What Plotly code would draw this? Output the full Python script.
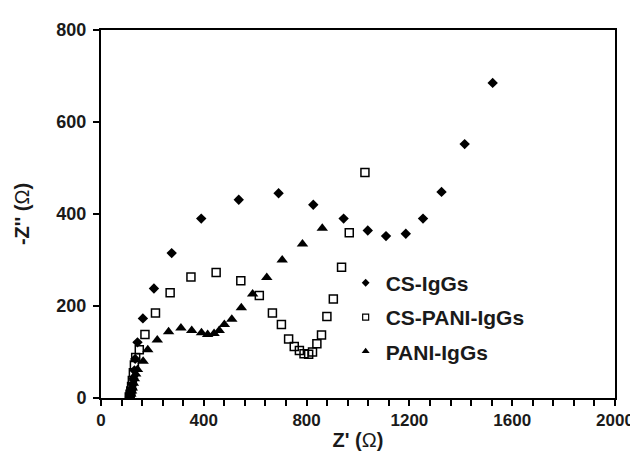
import plotly.graph_objects as go

# CS-IgGs (filled diamonds)
cs_x = [112, 115, 117, 120, 123, 126, 130, 133, 142, 163, 206, 275, 390, 536, 691, 826, 944, 1038, 1109, 1186, 1253, 1325, 1415, 1524]
cs_y = [2, 6, 12, 20, 30, 42, 60, 85, 121, 173, 238, 315, 390, 431, 445, 420, 390, 364, 352, 357, 390, 448, 552, 685]

# CS-PANI-IgGs (open squares)
cp_x = [110, 113, 116, 119, 122, 126, 130, 135, 149, 171, 212, 269, 350, 448, 544, 616, 667, 702, 730, 752, 772, 790, 808, 823, 840, 858, 879, 904, 936, 966, 1027]
cp_y = [2, 8, 15, 25, 38, 55, 72, 88, 105, 138, 185, 229, 263, 273, 255, 223, 185, 160, 128, 112, 103, 96, 95, 100, 118, 137, 177, 215, 284, 359, 490]

# PANI-IgGs (filled triangles)
pa_x = [113, 116, 119, 122, 126, 130, 135, 142, 164, 182, 219, 263, 311, 353, 391, 415, 440, 460, 480, 509, 546, 590, 645, 705, 784, 861]
pa_y = [3, 8, 15, 22, 32, 42, 52, 62, 80, 105, 126, 144, 152, 147, 142, 138, 140, 147, 160, 171, 196, 226, 262, 300, 335, 369]

x_ticks = [0, 400, 800, 1200, 1600, 2000]
y_ticks = [0, 200, 400, 600, 800]

series_names = ["CS-IgGs", "CS-PANI-IgGs", "PANI-IgGs"]

FONT = "Liberation Sans, Arial"
TXT = "#1a1a1a"

fig = go.Figure()
fig.add_trace(go.Scatter(x=cs_x, y=cs_y, mode="markers", name=series_names[0], showlegend=False,
                         marker=dict(symbol="diamond", size=8, color="black")))
fig.add_trace(go.Scatter(x=cp_x, y=cp_y, mode="markers", name=series_names[1], showlegend=False,
                         marker=dict(symbol="square-open", size=8, color="black",
                                     line=dict(width=1.5, color="black"))))
fig.add_trace(go.Scatter(x=pa_x, y=pa_y, mode="markers", name=series_names[2], showlegend=False,
                         marker=dict(symbol="triangle-up", size=10, color="black")))

# legend entries with the small symbols of the original key
fig.add_trace(go.Scatter(x=[None], y=[None], mode="markers", name=series_names[0], legendgroup="a",
                         marker=dict(symbol="diamond", size=6, color="black")))
fig.add_trace(go.Scatter(x=[None], y=[None], mode="markers", name=series_names[1], legendgroup="b",
                         marker=dict(symbol="square-open", size=6, color="black",
                                     line=dict(width=1.2, color="black"))))
fig.add_trace(go.Scatter(x=[None], y=[None], mode="markers", name=series_names[2], legendgroup="c",
                         marker=dict(symbol="triangle-up", size=7, color="black")))

tick_font = dict(family=FONT, size=18, color=TXT)

fig.update_layout(
    width=638, height=452,
    margin=dict(l=93, r=24, t=19, b=59),
    plot_bgcolor="white", paper_bgcolor="white",
    font=dict(family=FONT, color=TXT),
    showlegend=True,
    legend=dict(x=0.476, y=0.368, xanchor="left", yanchor="top",
                font=dict(family=FONT, size=21, color=TXT, weight="bold"),
                bgcolor="rgba(0,0,0,0)", itemsizing="trace", tracegroupgap=4),
    xaxis=dict(range=[0, 2000], tickvals=x_ticks, ticktext=["<b>%d</b>" % v for v in x_ticks],
               showgrid=False, zeroline=False, showline=True, linewidth=2, linecolor="black",
               mirror=True, ticks="outside", ticklen=6, tickwidth=2, tickcolor="black",
               tickfont=dict(family=FONT, size=17, color=TXT), ticklabeloverflow="allow",
               minor=dict(dtick=80, tick0=0, ticks="outside", ticklen=6, tickwidth=2, tickcolor="black"),
               title=dict(text="<b>Z' (</b>Ω<b>)</b>", font=dict(family=FONT, size=20, color=TXT), standoff=4)),
    yaxis=dict(range=[0, 800], tickvals=y_ticks, ticktext=["<b>%d</b>" % v for v in y_ticks],
               showgrid=False, zeroline=False, showline=True, linewidth=2, linecolor="black",
               mirror=True, ticks="outside", ticklen=6, tickwidth=2, tickcolor="black",
               tickfont=tick_font, ticklabelstandoff=3,
               title=dict(text="<b>-Z'' (</b>Ω<b>)</b>", font=dict(family=FONT, size=20, color=TXT), standoff=21)),
)

fig.write_html("out.html")
